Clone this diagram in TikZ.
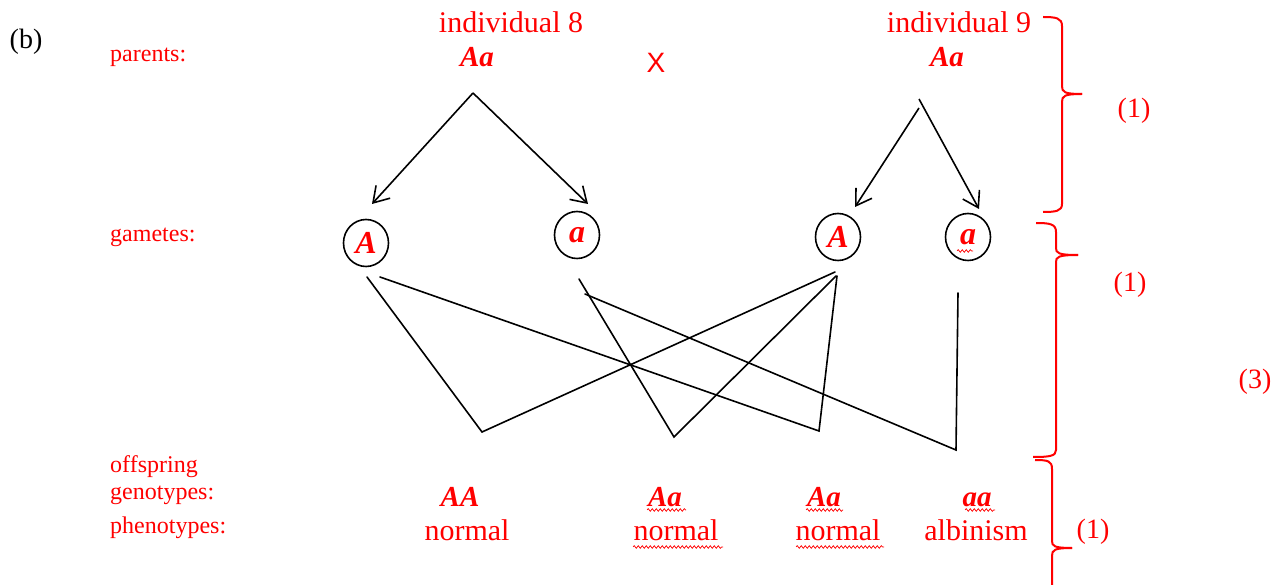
\documentclass[tikz,border=0pt]{standalone}
\usepackage{fontspec}
\setmainfont{Liberation Serif}
\newfontfamily\sansX{Liberation Sans}
\usetikzlibrary{arrows.meta,decorations.pathmorphing}
\tikzset{
  lab/.style={text=red, font=\fontsize{24}{28}\selectfont, anchor=base west, inner sep=0pt},
  big/.style={text=red, font=\fontsize{30}{36}\selectfont, anchor=base, inner sep=0pt},
  gen/.style={text=red, font=\fontsize{29}{34}\selectfont\bfseries\itshape, anchor=base, inner sep=0pt},
  mark1/.style={text=red, font=\fontsize{28}{32}\selectfont, inner sep=0pt},
  gam/.style={draw=black, line width=1.6pt, ellipse, minimum width=45pt, minimum height=47pt, inner sep=0pt, text=red, font=\fontsize{32}{36}\selectfont\bfseries\itshape},
  arr/.style={line width=1.6pt, -{Straight Barb[length=15pt,width=19pt,line width=1.6pt]}},
  cross/.style={line width=1.6pt, line cap=round},
  brace/.style={draw=red, line width=2pt},
  wavy/.style={draw=red, line width=0.7pt, decorate, decoration={snake, segment length=4pt, amplitude=1.3pt}}
}
\usetikzlibrary{shapes.geometric}
\begin{document}
\begin{tikzpicture}[x=1pt,y=-1pt]
\useasboundingbox (0,0) rectangle (1286,585);
\fill[white] (0,0) rectangle (1286,585);

% left labels
\node[inner sep=0pt, font=\fontsize{28}{32}\selectfont] (b) at (26,42) {(b)};
\node[lab] (lparents) at (110,62) {parents:};
\node[lab] (lgametes) at (110,242) {gametes:};
\node[lab] (loff) at (110,472) {offspring};
\node[lab] (lgeno) at (110,499) {genotypes:};
\node[lab] (lpheno) at (110,533) {phenotypes:};

% parents
\node[big] (ind8) at (511,33) {individual 8};
\node[gen] (par8) at (477,67) {Aa};
\node[big] (ind9) at (959,33) {individual 9};
\node[gen] (par9) at (947,67) {Aa};
\node[text=red, font=\sansX\fontsize{28}{32}\selectfont, anchor=base, inner sep=0pt] (x) at (656,73) {X};

% gametes
\node[gam] (gA1) at (366,243) {A};
\node[gam] (ga1) at (577,235) {a};
\node[gam] (gA2) at (838,237) {A};
\node[gam] (ga2) at (968,237) {a};
\draw[wavy] (957,251) -- (973,251);

% arrows from parents to gametes
\coordinate (p8) at (473,93);
\coordinate (e1) at (372,204);
\coordinate (e2) at (588,204);
\coordinate (p9a) at (919,108);
\coordinate (p9b) at (919,99);
\coordinate (e3) at (855,207);
\coordinate (e4) at (979,209);
\draw[arr] (p8) -- (e1);
\draw[arr] (p8) -- (e2);
\draw[arr] (p9a) -- (e3);
\draw[arr] (p9b) -- (e4);

% crossing lines
\coordinate (s1) at (367,277);
\coordinate (s2) at (380,277);
\coordinate (s3) at (579,279);
\coordinate (s4) at (585,294);
\coordinate (t1) at (835,272);
\coordinate (t2) at (836,276);
\coordinate (t3) at (837,276);
\coordinate (t4) at (958,293);
\coordinate (v1) at (482,432);
\coordinate (v2) at (674,437);
\coordinate (v3) at (819,431);
\coordinate (v4) at (956,450);
\draw[cross] (s1) -- (v1) -- (t1);
\draw[cross] (s3) -- (v2) -- (t2);
\draw[cross] (s2) -- (v3) -- (t3);
\draw[cross] (s4) -- (v4) -- (t4);

% offspring
\node[gen] (oAA) at (460,506) {AA};
\node[gen] (oAa1) at (665,506) {Aa};
\node[gen] (oAa2) at (824,506) {Aa};
\node[gen] (oaa) at (977,506) {aa};
\draw[wavy] (647,510) -- (686,510);
\draw[wavy] (806,510) -- (843,510);
\draw[wavy] (965,510) -- (995,510);
\node[big] (ph1) at (467,540) {normal};
\node[big] (ph2) at (676,540) {normal};
\node[big] (ph3) at (838,540) {normal};
\node[big] (ph4) at (976,540) {albinism};
\draw[wavy] (633,547) -- (723,547);
\draw[wavy] (796,547) -- (884,547);

% braces
\draw[brace] (1043,17) .. controls (1056,17) and (1062,18) .. (1062,26) -- (1062,86) .. controls (1062,92) and (1064,94) .. (1082,94);
\draw[brace] (1082,94) .. controls (1064,94) and (1062,96) .. (1062,102) -- (1062,204) .. controls (1062,211) and (1056,212) .. (1043,212);
\draw[brace] (1036,223) .. controls (1050,223) and (1056,224) .. (1056,232) -- (1056,248) .. controls (1056,253) and (1058,255) .. (1078,255);
\draw[brace] (1078,255) .. controls (1058,255) and (1056,257) .. (1056,262) -- (1056,450) .. controls (1056,456) and (1050,457) .. (1033,457);
\draw[brace] (1035,460) .. controls (1048,460) and (1052,461) .. (1052,469) -- (1052,541) .. controls (1052,546) and (1054,548) .. (1072,548);
\draw[brace] (1072,548) .. controls (1054,548) and (1052,550) .. (1052,556) -- (1052,590);

% marks
\node[mark1] (m1) at (1134,111) {(1)};
\node[mark1] (m2) at (1130,285) {(1)};
\node[mark1] (m3) at (1093,532) {(1)};
\node[mark1] (m4) at (1255,382) {(3)};
\end{tikzpicture}
\end{document}
